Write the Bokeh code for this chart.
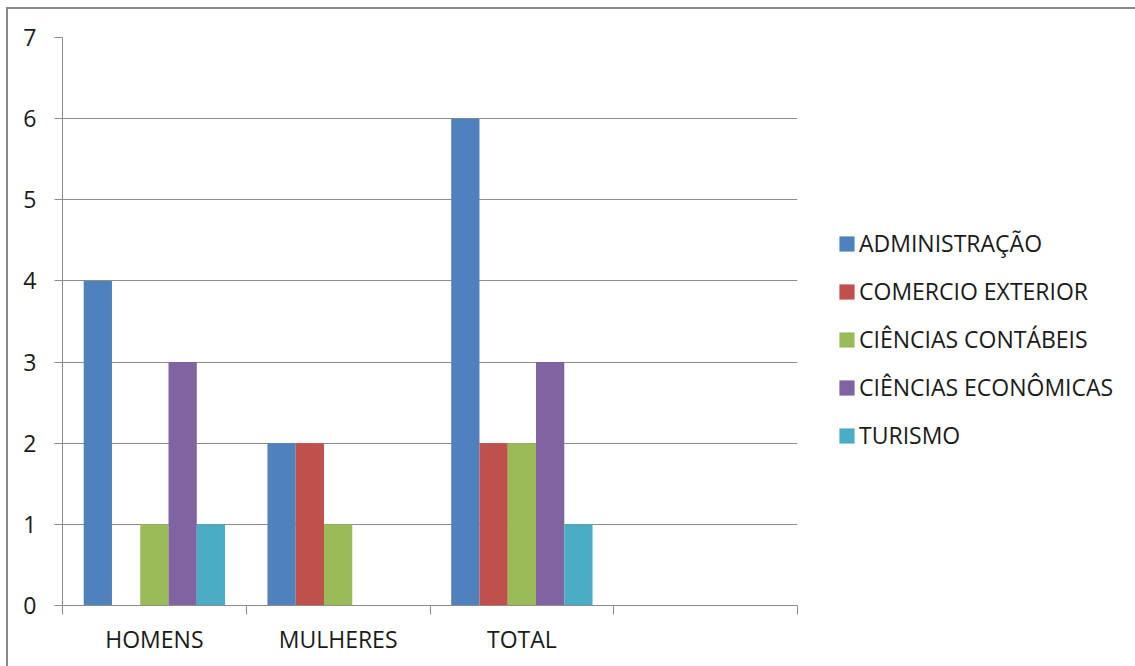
from bokeh.plotting import figure
from bokeh.models import ColumnDataSource, FixedTicker, Legend, LegendItem, Range1d
from bokeh.transform import dodge
from bokeh.embed import file_html
from bokeh.resources import INLINE

categories = ["HOMENS", "MULHERES", "TOTAL"]
n_slots = 4  # the chart keeps a fourth, empty category slot
series = ["ADMINISTRAÇÃO", "COMERCIO EXTERIOR", "CIÊNCIAS CONTÁBEIS",
          "CIÊNCIAS ECONÔMICAS", "TURISMO"]
administracao = [4, 2, 6]
comercio_exterior = [0, 2, 2]
ciencias_contabeis = [1, 1, 2]
ciencias_economicas = [3, 0, 3]
turismo = [1, 0, 1]
y_ticks = [0, 1, 2, 3, 4, 5, 6, 7]
colors = ["#4F81BD", "#C0504D", "#9BBB59", "#8064A2", "#4BACC6"]

values = [administracao, comercio_exterior, ciencias_contabeis,
          ciencias_economicas, turismo]

FONT = "Open Sans"
GRID = "#8c8c8c"

centers = [i + 0.5 for i in range(len(categories))]
data = {"x": centers}
for k, v in enumerate(values):
    data[f"s{k}"] = v
src = ColumnDataSource(data)

p = figure(frame_width=735, frame_height=568, output_backend="svg",
           toolbar_location=None,
           x_range=Range1d(0, n_slots), y_range=Range1d(0, 7),
           min_border_left=54, min_border_right=0, min_border_top=28,
           min_border_bottom=61)
p.margin = (7, 0, 0, 6)
p.styles = {"border-top": "2px solid #8a8a8a", "border-left": "2px solid #8a8a8a"}
p.outline_line_color = None
p.background_fill_color = "white"
p.border_fill_color = "white"

nser = len(series)
bar_w = 1.0 / (nser + 1.5)
items = []
for k in range(nser):
    off = (k - (nser - 1) / 2) * bar_w
    r = p.vbar(x=dodge("x", off), top=f"s{k}", bottom=0, width=bar_w,
               source=src, fill_color=colors[k], line_color=None)
    items.append(LegendItem(label=series[k], renderers=[r]))

# y axis
p.yaxis.ticker = FixedTicker(ticks=y_ticks)
p.yaxis.axis_line_color = GRID
p.yaxis.major_tick_line_color = GRID
p.yaxis.major_tick_out = 8
p.yaxis.major_tick_in = 0
p.yaxis.minor_tick_line_color = None
p.yaxis.major_label_standoff = 18
p.yaxis.major_label_text_font = FONT
p.yaxis.major_label_text_font_size = "23px"
p.yaxis.major_label_text_color = "#1a1a1a"

# x axis: labels at slot centers, tick marks at slot boundaries
p.xaxis.ticker = FixedTicker(ticks=centers,
                             minor_ticks=list(range(n_slots + 1)))
p.xaxis.major_label_overrides = {c: lab for c, lab in zip(centers, categories)}
p.xaxis.axis_line_color = GRID
p.xaxis.major_tick_line_color = None
p.xaxis.major_tick_out = 9
p.xaxis.major_tick_in = 0
p.xaxis.minor_tick_line_color = GRID
p.xaxis.minor_tick_out = 9
p.xaxis.minor_tick_in = 0
p.xaxis.major_label_standoff = 8
p.xaxis.major_label_text_font = FONT
p.xaxis.major_label_text_font_size = "23px"
p.xaxis.major_label_text_color = "#1a1a1a"

p.xgrid.grid_line_color = None
p.ygrid.ticker = FixedTicker(ticks=y_ticks)
p.ygrid.grid_line_color = GRID

legend = Legend(items=items, location=(40, 154), orientation="vertical",
                glyph_width=19, glyph_height=19, label_standoff=3,
                label_text_font=FONT, label_text_font_size="23px",
                label_text_color="#1a1a1a", label_height=20, spacing=16,
                padding=0, margin=0, border_line_color=None,
                background_fill_alpha=0)
p.add_layout(legend, "right")

open("out.html", "w").write(file_html(p, INLINE))
